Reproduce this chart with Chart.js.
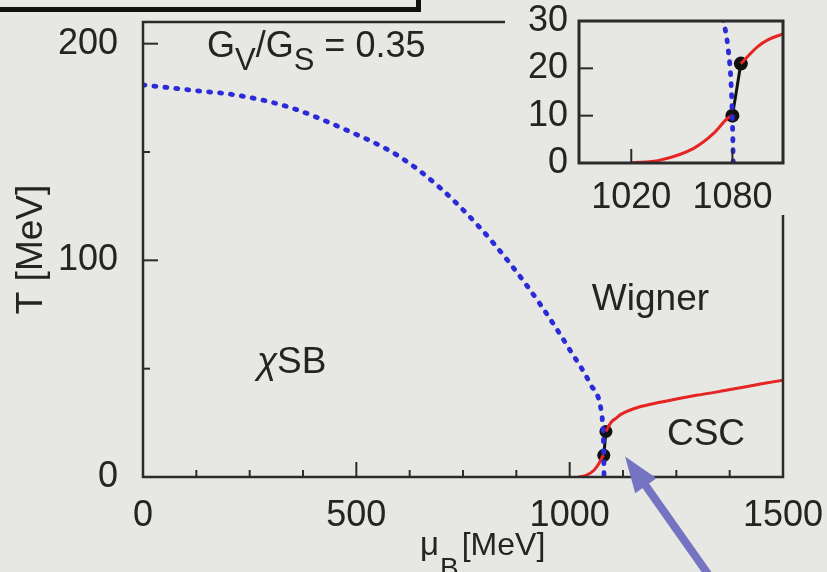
<!DOCTYPE html>
<html><head><meta charset="utf-8">
<script src="https://cdn.jsdelivr.net/npm/chart.js@4"></script>
<style>
html,body{margin:0;padding:0;background:#e7e7e3;}
#wrap{position:relative;width:827px;height:572px;overflow:hidden;background:#e7e7e3;}
#main{position:absolute;left:0;top:0;width:827px;height:572px;}
#inset{position:absolute;left:505px;top:0;width:322px;height:215px;}
#frame{position:absolute;left:-10px;top:-10px;width:426px;height:17px;border-right:5px solid #111;border-bottom:5px solid #111;}
</style></head>
<body><div id="wrap"><canvas id="main" width="827" height="572"></canvas><canvas id="inset" width="322" height="215"></canvas><div id="frame"></div></div>
<script>
// ---------- data ----------
const blueMu = [0,110,227,344,462,600,696,790,860,930,1001,1048,1074.5,1077.5,1079.3,1080.2,1080.5];
const blueT  = [181,178.6,176,170.6,161.4,148,133.5,115,98.6,80,58.5,43,30,24,16,6,0];
const redLowMu = [1020,1037,1057,1069,1077,1080];
const redLowT  = [0,0.6,3.1,6.3,9.4,10];
const redHighMu = [1085,1095,1101,1110,1120,1150,1200,1250,1300,1350,1400,1450,1500];
const redHighT  = [21,24.6,26,27.3,28.9,31.5,34,36,37.8,39.4,41.2,43,44.7];
const dotMu = [1080,1085];
const dotT  = [10,21];

const mainXTicks = [0,500,1000,1500];
const mainYTicks = [0,100,200];
const mainXMinor = [125,250,375,625,750,875,1125,1250,1375];
const mainYMinor = [50,150];
const insetXTicks = [1020,1080];
const insetYTicks = [0,10,20,30];

const ratioLabel = [['G',false],['V',true],['/G',false],['S',true],[' = 0.35',false]];
const regionLabels = [
  {parts:[['χ','italic'],['SB','']], mu:267, T:48.2},
  {parts:[['Wigner','']], mu:1052, T:77},
  {parts:[['CSC','']], mu:1228, T:14.7}
];
const arrowTip = {mu:1130, T:9.5};
const arrowTail = {mu:1350, T:-52};

// ---------- styles ----------
const FF = "'Liberation Sans', Arial, sans-serif";
const TXT = '#242424';
const BG = '#e7e7e3';
const zip = (a,b)=>a.map((v,i)=>({x:v,y:b[i]}));

function datasets(dotR){
  return [
    {data:zip(blueMu,blueT), showLine:true, borderColor:'#2b2bd8', borderWidth:4.8,
     borderDash:[2,9], borderCapStyle:'round', pointRadius:0, cubicInterpolationMode:'monotone'},
    {data:zip(redLowMu,redLowT), showLine:true, borderColor:'#e52424', borderWidth:3,
     pointRadius:0, cubicInterpolationMode:'monotone'},
    {data:zip(redHighMu,redHighT), showLine:true, borderColor:'#e52424', borderWidth:3,
     pointRadius:0, cubicInterpolationMode:'monotone'},
    {data:zip(dotMu,dotT), showLine:true, borderColor:'#111', borderWidth:3,
     pointRadius:dotR, pointBackgroundColor:'#111', pointBorderWidth:0}
  ];
}

function axisCfg(min,max,ticks,size,padding,fit){
  return {
    type:'linear', min:min, max:max,
    grid:{display:false, drawTicks:false}, border:{display:false},
    afterBuildTicks:(s)=>{ s.ticks = ticks.map(v=>({value:v})); },
    afterFit:(s)=>{ fit(s); s.paddingLeft=0; s.paddingRight=0; s.paddingTop=0; s.paddingBottom=0; },
    ticks:{autoSkip:false, maxRotation:0, padding:padding, color:TXT,
           callback:(v)=>String(v), font:{family:FF, size:size}}
  };
}

function frameTicks(opt){
  return {
    id:'frameTicks',
    beforeDraw(chart){
      if(opt.fill){ const c=chart.ctx; c.save(); c.fillStyle=BG; c.fillRect(0,0,chart.width,chart.height); c.restore(); }
    },
    afterDatasetsDraw(chart){
      const c=chart.ctx, a=chart.chartArea, x=chart.scales.x, y=chart.scales.y;
      c.save();
      c.strokeStyle='#2b2b2b'; c.lineWidth=opt.frame;
      c.strokeRect(a.left,a.top,a.right-a.left,a.bottom-a.top);
      c.lineWidth=2;
      const ln=(x1,y1,x2,y2)=>{c.beginPath();c.moveTo(x1,y1);c.lineTo(x2,y2);c.stroke();};
      opt.xMajor.forEach(v=>{const p=x.getPixelForValue(v); ln(p,a.bottom,p,a.bottom-opt.major);});
      opt.xMinor.forEach(v=>{const p=x.getPixelForValue(v); ln(p,a.bottom,p,a.bottom-opt.minor);});
      opt.yMajor.forEach(v=>{const p=y.getPixelForValue(v); ln(a.left,p,a.left+opt.major,p);});
      opt.yMinor.forEach(v=>{const p=y.getPixelForValue(v); ln(a.left,p,a.left+opt.minor,p);});
      c.restore();
    }
  };
}

function drawParts(c, parts, x, y){
  parts.forEach(p=>{
    c.font = p.font; c.fillText(p.t, x + (p.dx||0), y + (p.dy||0));
    x += c.measureText(p.t).width + (p.dx||0);
  });
}

const annotations = {
  id:'annotations',
  afterDraw(chart){
    const c=chart.ctx, a=chart.chartArea, x=chart.scales.x, y=chart.scales.y;
    c.save();
    c.fillStyle=TXT; c.textBaseline='alphabetic'; c.textAlign='left';
    // G_V/G_S = 0.35
    drawParts(c, ratioLabel.map(([t,sub])=>({t:t, font:(sub?'31px ':'36px ')+FF, dy:sub?13:0})),
      x.getPixelForValue(150), y.getPixelForValue(194));
    // region labels
    regionLabels.forEach(l=>{
      drawParts(c, l.parts.map(([t,st])=>({t:t, font:(st?st+' ':'')+'37px '+FF})),
        x.getPixelForValue(l.mu), y.getPixelForValue(l.T));
    });
    // axis titles
    c.save();
    c.translate(a.left-101, (a.top+a.bottom)/2);
    c.rotate(-Math.PI/2);
    c.textAlign='center'; c.font='37px '+FF;
    c.fillText('T [MeV]', 0, 0);
    c.restore();
    drawParts(c, [{t:'μ', font:'33px '+FF},{t:'B', font:'28px '+FF, dy:22, dx:1},{t:'[MeV]', font:'32px '+FF, dx:3}],
      a.left+277, 555);
    // arrow
    const tx=x.getPixelForValue(arrowTip.mu), ty=y.getPixelForValue(arrowTip.T);
    const sx=x.getPixelForValue(arrowTail.mu), sy=y.getPixelForValue(arrowTail.T);
    const dx=sx-tx, dy=sy-ty, L=Math.hypot(dx,dy), ux=dx/L, uy=dy/L;
    const hl=36, hw=13, sw=8;
    c.fillStyle='#7474c2'; c.strokeStyle='#7474c2';
    c.lineWidth=sw; c.lineCap='butt';
    c.beginPath(); c.moveTo(tx+ux*(hl-4), ty+uy*(hl-4)); c.lineTo(sx,sy); c.stroke();
    c.beginPath(); c.moveTo(tx,ty);
    c.lineTo(tx+ux*hl - uy*hw, ty+uy*hl + ux*hw);
    c.lineTo(tx+ux*hl + uy*hw, ty+uy*hl - ux*hw);
    c.closePath(); c.fill();
    c.restore();
  }
};

new Chart(document.getElementById('main'), {
  type:'scatter',
  data:{datasets:datasets(6.5)},
  options:{
    responsive:false, maintainAspectRatio:false, animation:false, events:[],
    layout:{padding:{top:22,right:44,left:0,bottom:0}},
    plugins:{legend:{display:false}, tooltip:{enabled:false}},
    scales:{
      x:axisCfg(0,1500,mainXTicks,36,17,(s)=>{s.height=95;}),
      y:axisCfg(0,210,mainYTicks,36,25,(s)=>{s.width=143;})
    }
  },
  plugins:[frameTicks({fill:false, frame:2.5, major:15, minor:7,
    xMajor:mainXTicks, xMinor:mainXMinor, yMajor:mainYTicks, yMinor:mainYMinor}), annotations]
});

new Chart(document.getElementById('inset'), {
  type:'scatter',
  data:{datasets:datasets(7)},
  options:{
    responsive:false, maintainAspectRatio:false, animation:false, events:[],
    layout:{padding:{top:21,right:44,left:0,bottom:0}},
    plugins:{legend:{display:false}, tooltip:{enabled:false}},
    scales:{
      x:axisCfg(989,1110,insetXTicks,36,13,(s)=>{s.height=52;}),
      y:axisCfg(0,30,insetYTicks,36,11,(s)=>{s.width=74;})
    }
  },
  plugins:[frameTicks({fill:true, frame:3, major:14, minor:0,
    xMajor:insetXTicks, xMinor:[], yMajor:insetYTicks.slice(1,3), yMinor:[]})]
});
</script>
</body></html>
